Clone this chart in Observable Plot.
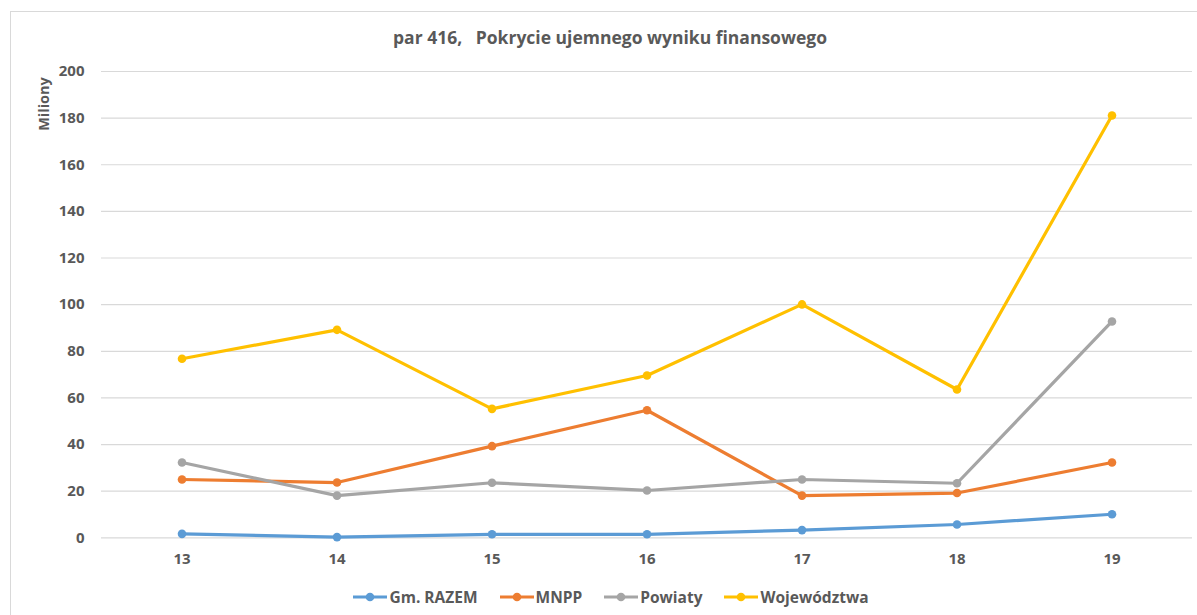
<!DOCTYPE html>
<html>
<head>
<meta charset="utf-8">
<script src="https://cdn.jsdelivr.net/npm/d3@7"></script>
<script src="https://cdn.jsdelivr.net/npm/@observablehq/plot@0.6"></script>
<style>
  html, body { margin: 0; padding: 0; background: #fff; }
  #wrap { position: relative; width: 1197px; height: 615px; overflow: hidden; font-family: "Open Sans", "Liberation Sans", sans-serif; color: #595959; }
  #frame { position: absolute; left: 10px; top: 11px; width: 1300px; height: 700px; border: 1px solid #d9d9d9; box-sizing: border-box; }
  #title { position: absolute; left: 0; width: 1220px; top: 25px; text-align: center; font-weight: bold; font-size: 17.5px; white-space: pre; }
  #chart { position: absolute; left: 0; top: 0; }
  #ylabel { position: absolute; left: 43px; top: 104px; transform: translate(-50%, -50%) rotate(-90deg); font-weight: bold; font-size: 14.5px; white-space: nowrap; }
  #legend { position: absolute; top: 586px; left: 0; width: 1222px; display: flex; justify-content: center; gap: 22px; font-size: 15.5px; font-weight: bold; }
  .item { display: flex; align-items: center; gap: 2px; }
</style>
</head>
<body>
<div id="wrap">
  <div id="frame"></div>
  <div id="chart"></div>
  <div id="title"></div>
  <div id="ylabel">Miliony</div>
  <div id="legend"></div>
</div>
<script>
const categories = ["13", "14", "15", "16", "17", "18", "19"];
const seriesNames = ["Gm. RAZEM", "MNPP", "Powiaty", "Województwa"];
const seriesColors = ["#5b9bd5", "#ed7d31", "#a5a5a5", "#ffc000"];
const gmRazem = [1.7, 0.3, 1.5, 1.5, 3.3, 5.7, 10.1];
const mnpp = [25.0, 23.7, 39.3, 54.7, 18.1, 19.2, 32.3];
const powiaty = [32.3, 18.1, 23.6, 20.3, 25.0, 23.4, 92.8];
const wojewodztwa = [76.8, 89.2, 55.3, 69.6, 100.1, 63.6, 181.1];
const yTicks = [0, 20, 40, 60, 80, 100, 120, 140, 160, 180, 200];
const titleText = "par 416,   Pokrycie ujemnego wyniku finansowego";

const allSeries = [gmRazem, mnpp, powiaty, wojewodztwa];
const data = [];
allSeries.forEach((vals, si) => {
  vals.forEach((v, i) => data.push({ series: seriesNames[si], cat: categories[i], value: v }));
});

const H = 575;
const chart = Plot.plot({
  width: 1197,
  height: H,
  marginLeft: 101,
  marginRight: 5,
  marginTop: 71,
  marginBottom: H - 537.3,
  style: { fontFamily: "'Open Sans', 'Liberation Sans', sans-serif", color: "#595959", background: "transparent" },
  x: { type: "band", domain: categories, padding: 0, label: null },
  y: { domain: [0, 200], label: null },
  color: { domain: seriesNames, range: seriesColors },
  marks: [
    Plot.gridY(yTicks, { stroke: "#d9d9d9", strokeOpacity: 1, strokeWidth: 1.2 }),
    Plot.axisY(yTicks, { tickSize: 0, tickPadding: 17, fontSize: 15, fontWeight: "bold", fill: "#595959", label: null }),
    Plot.axisX({ tickSize: 0, tickPadding: 16, fontSize: 15, fontWeight: "bold", fill: "#595959", label: null }),
    Plot.line(data, { x: "cat", y: "value", z: "series", stroke: "series", strokeWidth: 3.2, curve: "linear" }),
    Plot.dot(data, { x: "cat", y: "value", fill: "series", r: 4.3 })
  ]
});
document.getElementById("chart").appendChild(chart);
document.getElementById("title").textContent = titleText;

const legend = document.getElementById("legend");
seriesNames.forEach((name, i) => {
  const item = document.createElement("div");
  item.className = "item";
  item.innerHTML = `<svg width="34" height="12"><line x1="0" y1="6" x2="34" y2="6" stroke="${seriesColors[i]}" stroke-width="3"/><circle cx="17" cy="6" r="4.3" fill="${seriesColors[i]}"/></svg><span>${name}</span>`;
  legend.appendChild(item);
});
</script>
</body>
</html>
